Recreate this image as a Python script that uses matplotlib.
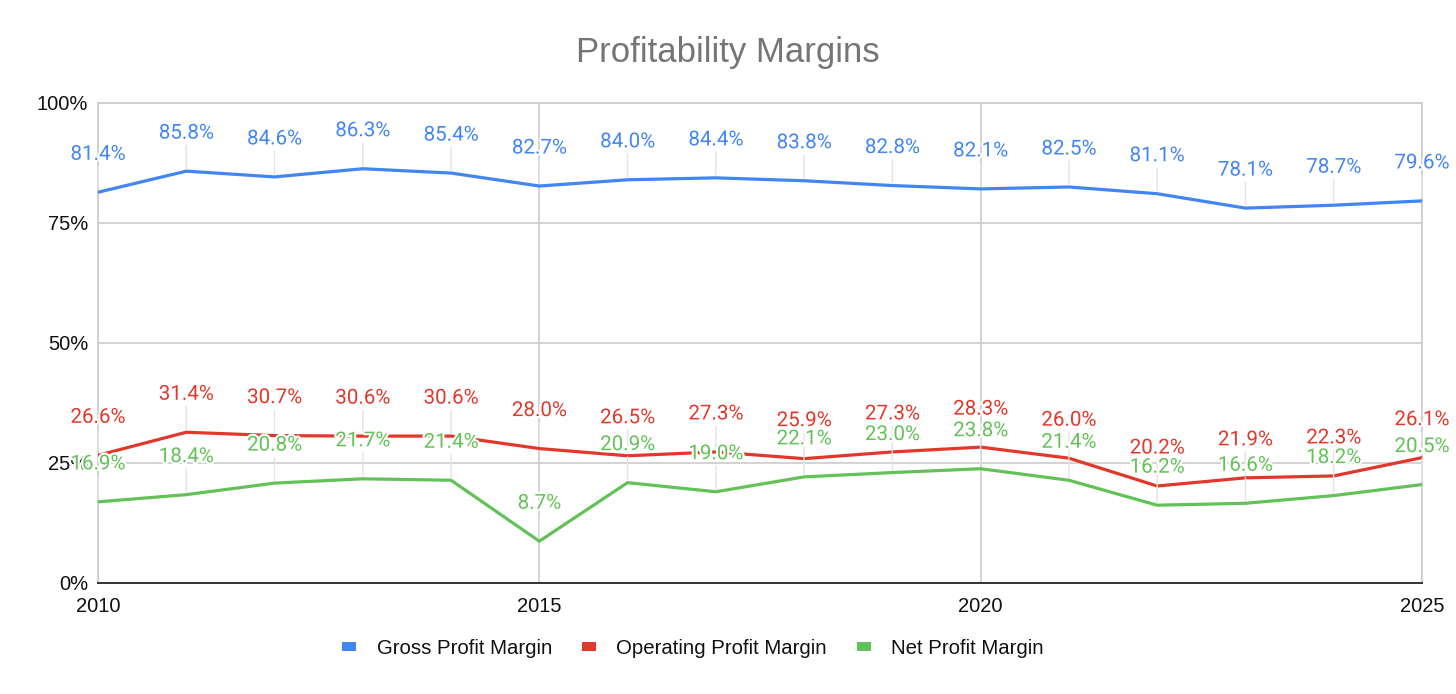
"""Profitability margins line chart, Google Sheets style."""

import matplotlib

matplotlib.use("Agg")

import matplotlib.pyplot as plt
import matplotlib.patheffects as pe
from matplotlib.patches import FancyBboxPatch

years = list(range(2010, 2026))
gross_margin = [81.4, 85.8, 84.6, 86.3, 85.4, 82.7, 84.0, 84.4, 83.8, 82.8, 82.1, 82.5, 81.1, 78.1, 78.7, 79.6]
operating_margin = [26.6, 31.4, 30.7, 30.6, 30.6, 28.0, 26.5, 27.3, 25.9, 27.3, 28.3, 26.0, 20.2, 21.9, 22.3, 26.1]
net_margin = [16.9, 18.4, 20.8, 21.7, 21.4, 8.7, 20.9, 19.0, 22.1, 23.0, 23.8, 21.4, 16.2, 16.6, 18.2, 20.5]
series_names = ["Gross Profit Margin", "Operating Profit Margin", "Net Profit Margin"]
y_ticks = [0, 25, 50, 75, 100]
x_ticks = [2010, 2015, 2020, 2025]

COLORS = ["#4285f4", "#e2382c", "#63c257"]
GRID = "#cccccc"
LABEL_FONT = "Roboto"
AXIS_FONT = "Liberation Sans"


def main() -> None:
    fig = plt.figure(figsize=(14.56, 6.94), dpi=100)
    ax = fig.add_axes([0.0673, 0.16, 0.9093, 0.6916])

    all_series = [gross_margin, operating_margin, net_margin]
    for values, color in zip(all_series, COLORS):
        ax.plot(years, values, color=color, linewidth=2.3, solid_capstyle="round", zorder=3)

    # point labels with thin leader lines, drawn above all lines
    for values, color in zip(all_series, COLORS):
        for year, value in zip(years, values):
            ax.annotate(
                f"{value:.1f}%",
                xy=(year, value),
                xytext=(0, 38),
                textcoords="offset pixels",
                ha="center",
                va="center",
                fontsize=14.8,
                family=LABEL_FONT,
                color=color,
                zorder=5,
                annotation_clip=False,
                path_effects=[pe.withStroke(linewidth=3, foreground="white")],
                arrowprops=dict(arrowstyle="-", color="#e3e3e3", linewidth=1.0,
                                shrinkA=0, shrinkB=2),
            )

    ax.set_xlim(2010, 2025)
    ax.set_ylim(0, 100)
    ax.set_yticks(y_ticks)
    ax.set_yticklabels([f"{t}%" for t in y_ticks], family=AXIS_FONT, fontsize=14.5)
    ax.set_xticks(x_ticks)
    ax.set_xticklabels([str(t) for t in x_ticks], family=AXIS_FONT, fontsize=14.5)
    ax.tick_params(length=0, colors="#111111")
    ax.tick_params(axis="y", pad=7)
    ax.tick_params(axis="x", pad=10)
    ax.grid(True, color=GRID, linewidth=1.2, zorder=0)
    ax.set_axisbelow(True)
    for side in ["left", "right", "top"]:
        ax.spines[side].set_color(GRID)
        ax.spines[side].set_linewidth(1.2)
    ax.spines["bottom"].set_color("#333333")
    ax.spines["bottom"].set_linewidth(1.4)

    fig.text(0.5, 0.924, "Profitability Margins", ha="center", va="center",
             fontsize=25, family=AXIS_FONT, color="#757575")

    handles = [
        FancyBboxPatch((0, 0), 1, 1, boxstyle="round,pad=0,rounding_size=0.2",
                       facecolor=c, edgecolor="none")
        for c in COLORS
    ]
    fig.legend(
        handles,
        series_names,
        loc="center",
        bbox_to_anchor=(0.476, 0.066),
        ncol=3,
        frameon=False,
        prop={"family": AXIS_FONT, "size": 14.7},
        labelcolor="#111111",
        handlelength=0.7,
        handleheight=0.35,
        handletextpad=1.0,
        columnspacing=1.45,
    )

    fig.savefig("out.png", dpi=100)
    plt.close(fig)


if __name__ == "__main__":
    main()
